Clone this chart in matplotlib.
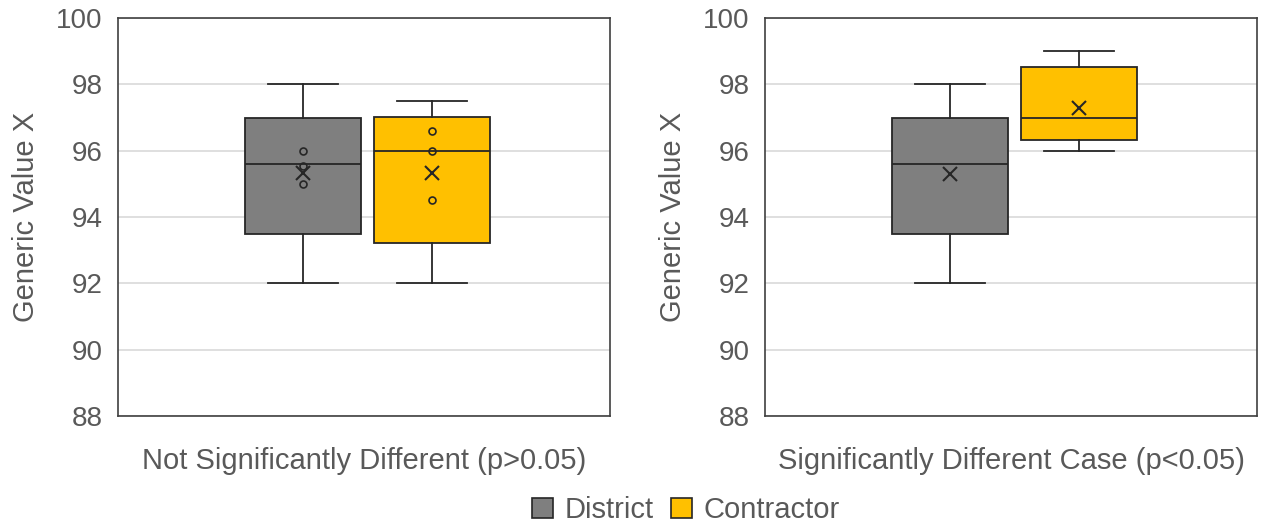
import matplotlib
matplotlib.use('Agg')
import matplotlib.pyplot as plt
from matplotlib.patches import Patch

plt.rcParams['font.family'] = ['Liberation Sans', 'DejaVu Sans']

series = ['District', 'Contractor']
colors = ['#7f7f7f', '#ffc000']
panel_labels = ['Not Significantly Different (p>0.05)', 'Significantly Different Case (p<0.05)']

# box statistics per panel: [District, Contractor]
whislo = [[92, 92], [92, 96]]
q1 = [[93.5, 93.22], [93.5, 96.33]]
med = [[95.6, 96.0], [95.6, 97.0]]
q3 = [[97.0, 97.03], [97.0, 98.52]]
whishi = [[98, 97.5], [98, 99.0]]
means = [[95.33, 95.33], [95.3, 97.3]]
# inner points shown only in the first panel
inner_points = [[[96.0, 95.55, 95.0], [96.6, 96.0, 94.5]], [[], []]]

text_color = '#595959'
edge = '#262626'

fig = plt.figure(figsize=(12.67, 5.25), dpi=100)
axes = [fig.add_axes([118 / 1267, 1 - 416 / 525, 492 / 1267, 398 / 525]),
        fig.add_axes([765 / 1267, 1 - 416 / 525, 492 / 1267, 398 / 525])]

for p, ax in enumerate(axes):
    stats = []
    for i, name in enumerate(series):
        stats.append(dict(label=name, whislo=whislo[p][i], q1=q1[p][i], med=med[p][i],
                          q3=q3[p][i], whishi=whishi[p][i], mean=means[p][i], fliers=[]))
    bp = ax.bxp(stats, positions=[1, 2], widths=0.9, capwidths=0.54, patch_artist=True,
                showmeans=True, manage_ticks=False,
                boxprops=dict(edgecolor=edge, linewidth=1.3),
                medianprops=dict(color=edge, linewidth=1.3),
                whiskerprops=dict(color=edge, linewidth=1.3),
                capprops=dict(color=edge, linewidth=1.3),
                meanprops=dict(marker='x', markeredgecolor=edge, markersize=10, markeredgewidth=1.5))
    for box, c in zip(bp['boxes'], colors):
        box.set_facecolor(c)
        box.set_zorder(2)
    for i in range(2):
        pts = inner_points[p][i]
        if pts:
            ax.plot([i + 1] * len(pts), pts, linestyle='none', marker='o', markersize=5,
                    markerfacecolor='none', markeredgecolor=edge, markeredgewidth=1.2, zorder=4)

    ax.set_ylim(88, 100)
    ax.set_yticks([88, 90, 92, 94, 96, 98, 100])
    ax.set_xlim(-0.43, 3.38)
    ax.set_xticks([])
    ax.grid(axis='y', color='#d9d9d9', linewidth=1.2, zorder=0)
    ax.set_axisbelow(True)
    for s in ax.spines.values():
        s.set_color('#404040')
        s.set_linewidth(1.2)
    ax.tick_params(axis='y', length=0, labelsize=20, labelcolor=text_color, pad=11)
    ax.set_ylabel('Generic Value X', fontsize=21, color=text_color, labelpad=12)
    ax.set_xlabel(panel_labels[p], fontsize=21, color=text_color, labelpad=22)

handles = [Patch(facecolor=c, edgecolor=edge, linewidth=1.2, label=n) for n, c in zip(series, colors)]
fig.legend(handles=handles, loc='center', bbox_to_anchor=(686 / 1267, 1 - 510 / 525), ncol=2, frameon=False,
           fontsize=21, handlelength=0.7, handleheight=0.7, handletextpad=0.4, columnspacing=0.6,
           labelcolor=text_color, borderpad=0)

fig.savefig('out.png', dpi=100)
